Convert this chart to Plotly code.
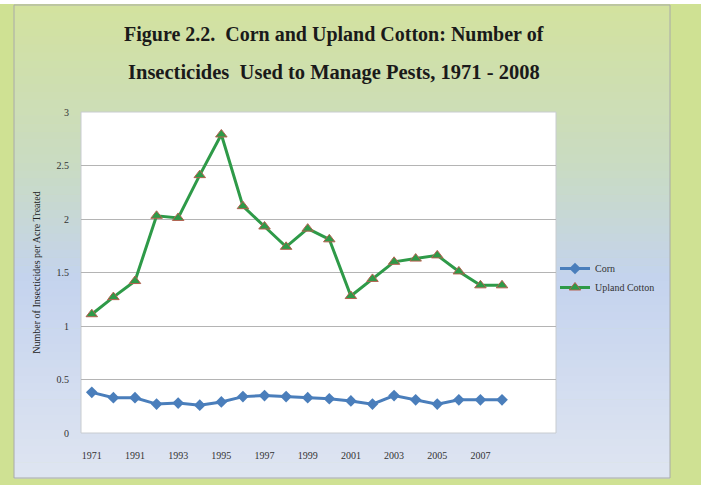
import plotly.graph_objects as go

# data
years = ["1971", "1990", "1991", "1992", "1993", "1994", "1995", "1996", "1997", "1998",
         "1999", "2000", "2001", "2002", "2003", "2004", "2005", "2006", "2007", "2008"]
corn = [0.38, 0.33, 0.33, 0.27, 0.28, 0.26, 0.29, 0.34, 0.35, 0.34,
        0.33, 0.32, 0.30, 0.27, 0.35, 0.31, 0.27, 0.31, 0.31, 0.31]
cotton = [1.11, 1.27, 1.42, 2.03, 2.01, 2.41, 2.79, 2.12, 1.93, 1.74,
          1.91, 1.81, 1.28, 1.44, 1.60, 1.63, 1.66, 1.51, 1.38, 1.38]
y_ticks = [0, 0.5, 1, 1.5, 2, 2.5, 3]
y_ticktext = ["0", "0.5", "1", "1.5", "2", "2.5", "3"]

xpos = list(range(len(years)))
shown = xpos[::2]

W, H = 701, 485
serif = "Liberation Serif, Times New Roman, serif"

fig = go.Figure()

fig.add_trace(go.Scatter(
    x=xpos, y=corn, name="Corn", mode="lines+markers",
    line=dict(color="#4a7ebb", width=3),
    marker=dict(symbol="diamond", size=9, color="#4a7ebb"),
))
fig.add_trace(go.Scatter(
    x=xpos, y=cotton, name="Upland Cotton", mode="lines+markers",
    line=dict(color="#2e9a48", width=3),
    marker=dict(symbol="triangle-up", size=10, color="#2e9a48",
                line=dict(color="#b5604f", width=1)),
))

# background: outer green, inner panel with green->blue gradient
shapes = []
# thin white strip along the top edge
shapes.append(dict(type="rect", xref="paper", yref="paper", layer="below",
                   x0=0, x1=1, y0=1 - 4 / H, y1=1, line=dict(width=0), fillcolor="white"))
px0, px1, py0, py1 = 14, 670, 5, 478
stops = [(0.0, (211, 226, 158)), (0.35, (201, 219, 196)),
         (0.58, (196, 211, 238)), (1.0, (223, 229, 241))]


def col_at(f):
    for (a, ca), (b, cb) in zip(stops[:-1], stops[1:]):
        if a <= f <= b:
            t = (f - a) / (b - a)
            return "rgb(%d,%d,%d)" % tuple(round(ca[i] + (cb[i] - ca[i]) * t) for i in range(3))
    return "rgb(%d,%d,%d)" % stops[-1][1]


n = 60
for i in range(n):
    ya = py0 + (py1 - py0) * i / n
    yb = py0 + (py1 - py0) * (i + 1) / n + 0.6
    shapes.append(dict(type="rect", xref="paper", yref="paper", layer="below",
                       x0=px0 / W, x1=px1 / W, y0=1 - yb / H, y1=1 - ya / H,
                       line=dict(width=0), fillcolor=col_at((i + 0.5) / n)))
shapes.append(dict(type="rect", xref="paper", yref="paper", layer="below",
                   x0=px0 / W, x1=px1 / W, y0=1 - py1 / H, y1=1 - py0 / H,
                   line=dict(color="#a8aaa8", width=1), fillcolor="rgba(0,0,0,0)"))

# plot area
ax0, ax1, ay0, ay1 = 81, 556, 112, 433
shapes.append(dict(type="rect", xref="paper", yref="paper", layer="below",
                   x0=ax0 / W, x1=ax1 / W, y0=1 - ay1 / H, y1=1 - ay0 / H,
                   line=dict(color="#c8ccd0", width=1), fillcolor="white"))

fig.update_layout(
    width=W, height=H,
    margin=dict(l=0, r=0, t=0, b=0, autoexpand=False),
    paper_bgcolor="#cfe193",
    plot_bgcolor="rgba(0,0,0,0)",
    shapes=shapes,
    font=dict(family=serif, size=10, color="#333333"),
    xaxis=dict(domain=[ax0 / W, ax1 / W], range=[-0.5, 21.5], automargin=False,
               tickmode="array", tickvals=shown, ticktext=[years[i] for i in shown],
               showgrid=False, zeroline=False, showline=False, ticks="",
               ticklabelstandoff=15, tickfont=dict(size=10)),
    yaxis=dict(domain=[1 - ay1 / H, 1 - ay0 / H], range=[0, 3], automargin=False,
               tickmode="array", tickvals=y_ticks, ticktext=y_ticktext,
               showgrid=True, gridcolor="#b4b4b4", gridwidth=1, zeroline=False,
               showline=False, ticks="", ticklabelstandoff=11,
               title=dict(text="Number of Insecticides per Acre Treated",
                          font=dict(size=10, color="#222222"), standoff=14)),
    legend=dict(x=555 / W, y=1 - 254 / H, xanchor="left", yanchor="top",
                bgcolor="rgba(0,0,0,0)", font=dict(size=10, color="#333333"),
                itemwidth=30, tracegroupgap=3),
    annotations=[
        dict(text="<b>Figure 2.2.  Corn and Upland Cotton: Number of</b>",
             xref="paper", yref="paper", x=334 / W, y=1 - 35 / H, yanchor="middle",
             showarrow=False, font=dict(size=20, color="#1a1a1a", family=serif)),
        dict(text="<b>Insecticides  Used to Manage Pests, 1971 - 2008</b>",
             xref="paper", yref="paper", x=334 / W, y=1 - 72 / H, yanchor="middle",
             showarrow=False, font=dict(size=20.5, color="#1a1a1a", family=serif)),
    ],
)

# drop the default page margin / scrollbars so the figure sits at the window's corner
page_fix = (
    "document.documentElement.style.overflow='hidden';"
    "document.body.style.margin='0';"
    "document.body.style.background='#cfe193';"
    "document.body.style.overflow='hidden';"
)
fig.write_html("out.html", post_script=page_fix,
               config={"displayModeBar": False, "responsive": False})
